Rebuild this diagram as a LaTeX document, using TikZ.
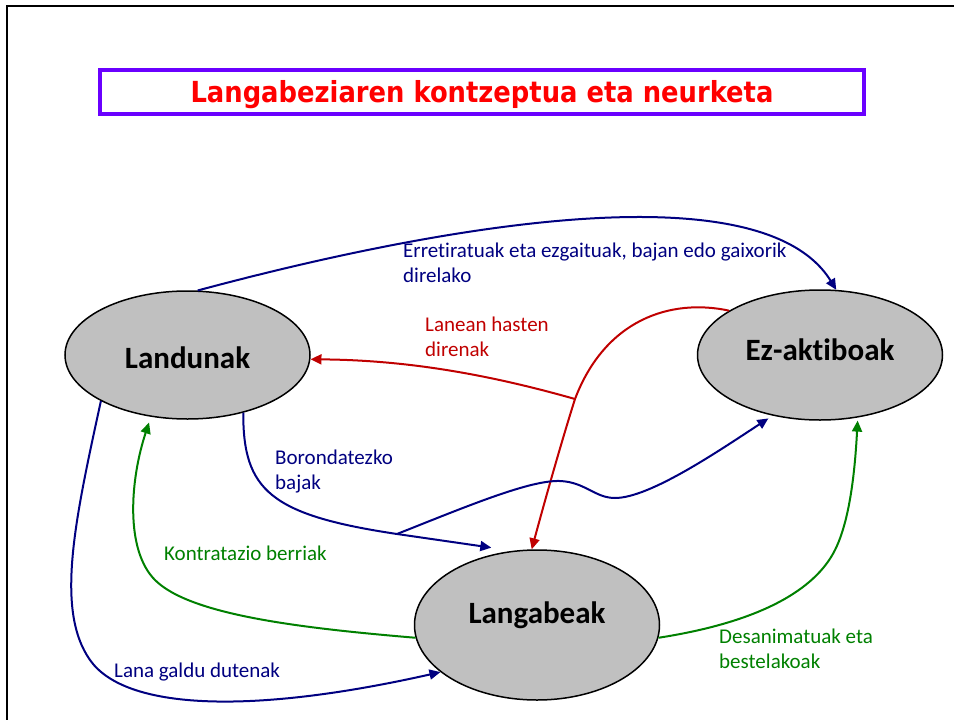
\documentclass[tikz,border=0pt]{standalone}
\usepackage{fontspec}
\setmainfont{Carlito}[Ligatures={NoCommon,NoContextual}]
\newfontfamily\titlefont[FakeStretch=0.89]{DejaVu Sans}
\usetikzlibrary{arrows.meta, positioning, shapes.geometric}

\definecolor{navyline}{RGB}{0,0,128}
\definecolor{redline}{RGB}{192,0,0}
\definecolor{greenline}{RGB}{0,128,0}
\definecolor{titlered}{RGB}{255,0,0}
\definecolor{titlebox}{RGB}{106,0,255}
\definecolor{statusfill}{RGB}{192,192,192}

\tikzset{
  statusnode/.style={ellipse, draw=black, line width=1.5pt, fill=statusfill,
    inner sep=0pt, minimum width=245pt, font=\fontsize{31}{36}\selectfont\bfseries},
  flow/.style={line width=2pt, -{Triangle[length=11pt,width=10pt]}},
  flowlabel/.style={anchor=north west, inner sep=0pt, align=left,
    font=\fontsize{21}{25}\selectfont},
}

\begin{document}
\begin{tikzpicture}[x=1pt, y=-1pt]
\useasboundingbox (0,0) rectangle (954,720);
\draw[line width=2pt] (7,730) -- (7,6) -- (960,6);

\node[draw=titlebox, line width=4pt, minimum width=764pt, minimum height=44pt,
  inner sep=0pt, text height=28pt, text depth=7pt, text=titlered,
  font=\titlefont\fontsize{29}{34}\selectfont\bfseries] (title) at (482,92)
  {Langabeziaren kontzeptua eta neurketa};

\node[statusnode, minimum height=128pt, text height=32pt, text depth=6pt] (land) at (187.5,355) {Landunak};
\node[statusnode, minimum height=130pt, text height=22pt, text depth=12pt] (ez) at (820,355) {Ez-aktiboak};
\node[statusnode, minimum height=150pt, text height=22pt, text depth=26pt] (lang) at (537,625) {Langabeak};

\coordinate (redsplit) at (575,399);
\coordinate (bluesplit) at (397,534);

\draw[flow, navyline] (land.81) .. controls (330,255) and (750,150) .. (ez.76);
\draw[flow, redline] (ez.154) .. controls (670,298) and (605,320) .. (redsplit)
  .. controls (562,440) and (545,500) .. (lang.94);
\draw[flow, redline] (redsplit) .. controls (480,372) and (400,360) .. (land.-2);
\draw[flow, navyline] (land.-46) .. controls (243,490) and (270,515) .. (bluesplit)
  -- ([yshift=7pt]lang.123);
\draw[flow, navyline, shorten >=5pt] (bluesplit) .. controls (470,505) and (530,480) .. (560,481)
  .. controls (585,482) and (595,498) .. (615,498)
  .. controls (650,498) and (720,450) .. (ez.232);
\draw[flow, greenline] (lang.186) .. controls (300,628) and (190,615) .. (155,580)
  .. controls (125,550) and (130,480) .. ([yshift=-6pt]land.238);
\draw[flow, greenline] (lang.-6) .. controls (760,622) and (815,590) .. (835,550)
  .. controls (850,520) and (855,470) .. ([yshift=-3pt]ez.301);
\draw[flow, navyline] (land.208) .. controls (75,520) and (55,610) .. (90,660)
  .. controls (125,710) and (250,715) .. (lang.206);

\node[flowlabel, text=navyline] (retired) at (403,243)
  {Erretiratuak eta ezgaituak, bajan edo gaixorik\\direlako};
\node[flowlabel, text=redline] (start) at (425,316.5) {Lanean hasten\\direnak};
\node[flowlabel, text=navyline] (quit) at (275,449.5) {Borondatezko\\bajak};
\node[flowlabel, text=greenline] (hired) at (164,545.5) {Kontratazio berriak};
\node[flowlabel, text=navyline] (lost) at (114,662.5) {Lana galdu dutenak};
\node[flowlabel, text=greenline] (discouraged) at (719,628.5) {Desanimatuak eta\\bestelakoak};
\end{tikzpicture}
\end{document}
